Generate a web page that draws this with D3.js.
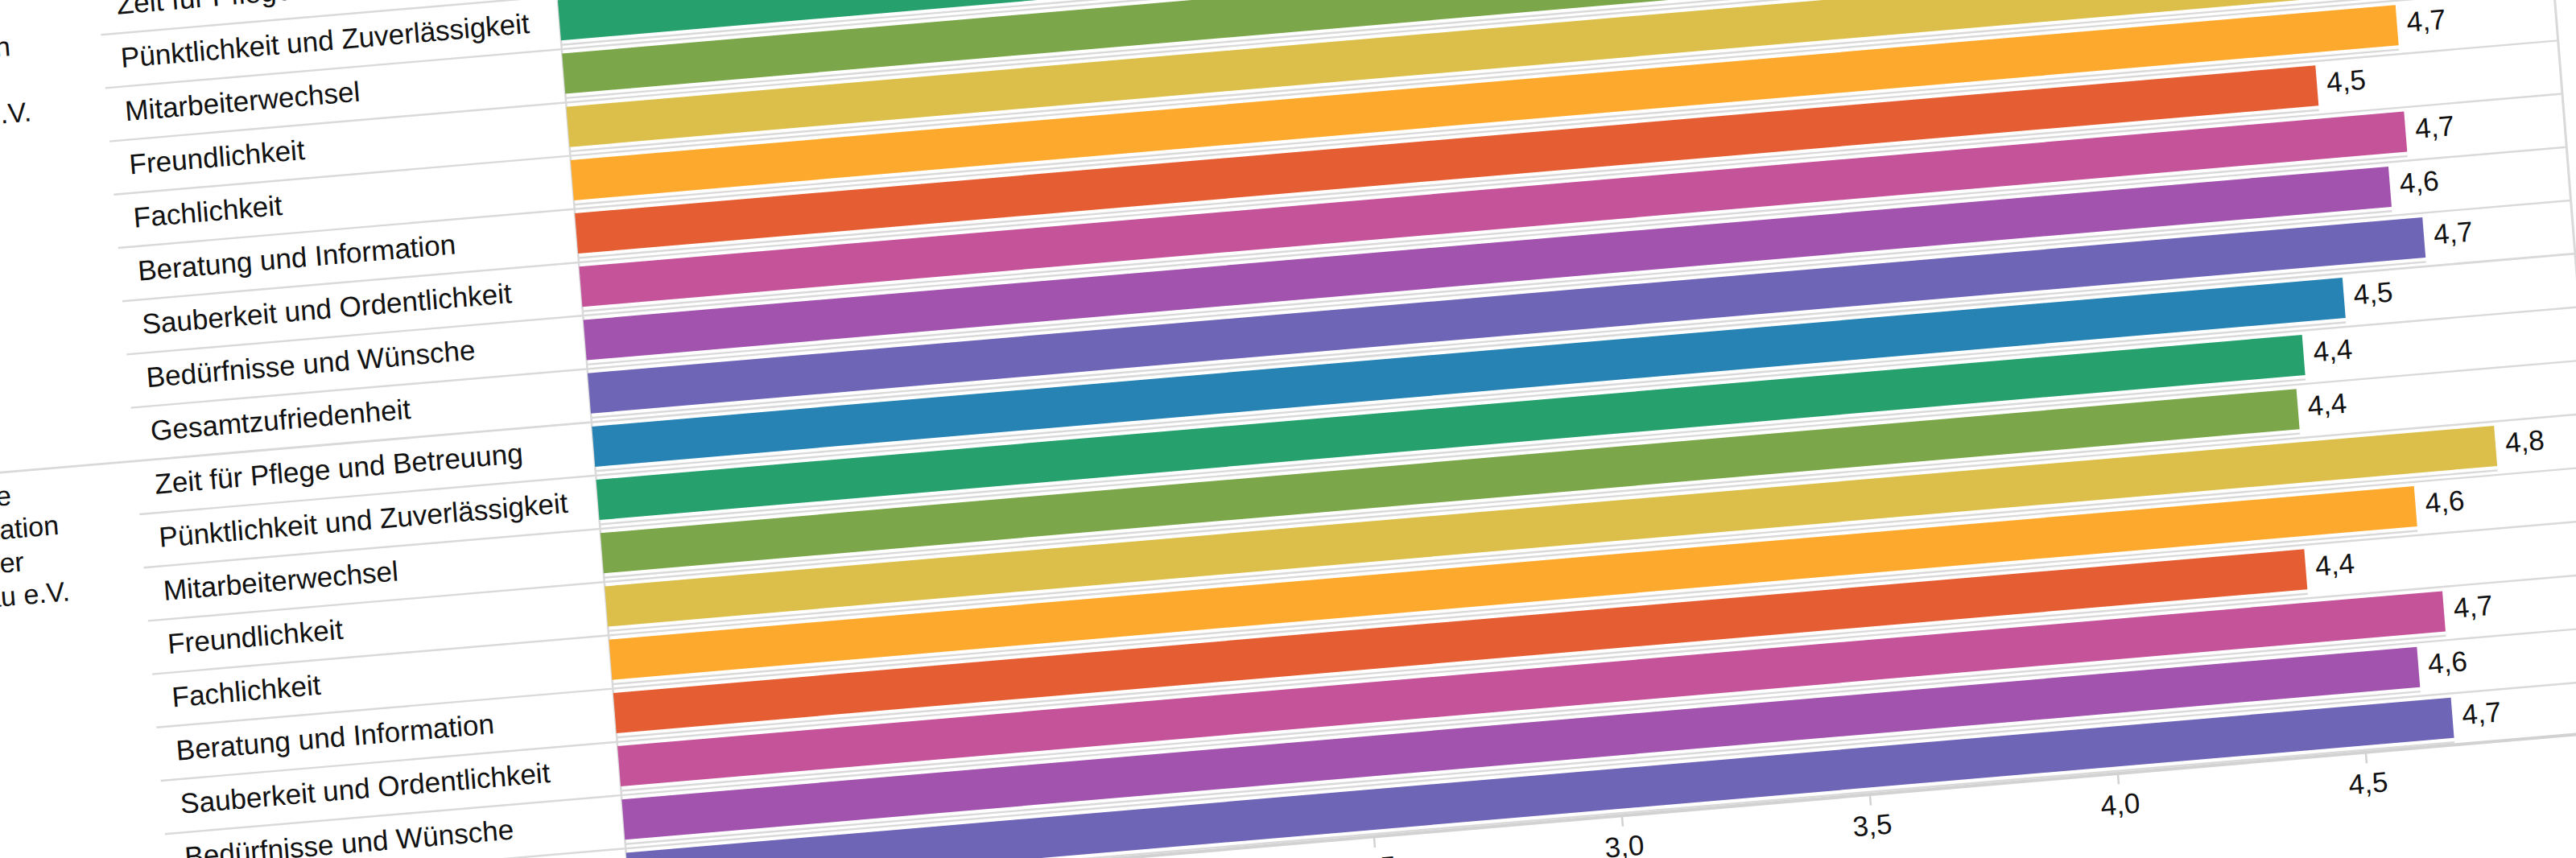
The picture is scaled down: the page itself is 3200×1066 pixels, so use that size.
<!DOCTYPE html>
<html>
<head>
<meta charset="utf-8">
<script src="https://cdn.jsdelivr.net/npm/d3@7"></script>
<style>
  html, body { margin: 0; padding: 0; background: #ffffff; }
  svg { display: block; }
</style>
</head>
<body>
<svg id="chart" width="3200" height="1066"></svg>
<script>
// ---------- data ----------
const groupLabels = [
  ["Ökumenische", "Sozialstation Bergen", "der Evangelischen", "Gemeinde-Pflege e.V."],
  ["Ambulante Pflege", "Vinzenz-Sozialstation", "Krankenpflege der", "Sozialhilfe Hanau e.V."]
];
const categories = [
  "Zeit für Pflege und Betreuung",
  "Pünktlichkeit und Zuverlässigkeit",
  "Mitarbeiterwechsel",
  "Freundlichkeit",
  "Fachlichkeit",
  "Beratung und Information",
  "Sauberkeit und Ordentlichkeit",
  "Bedürfnisse und Wünsche",
  "Gesamtzufriedenheit"
];
const valuesGroup1 = [4.6, 4.5, 4.3, 4.7, 4.68, 4.51, 4.68, 4.64, 4.70];
const valuesGroup2 = [4.53, 4.44, 4.42, 4.81, 4.64, 4.41, 4.68, 4.62, 4.68];
const barColors = ["#2783b4", "#26a06d", "#7ba64a", "#dcbe4a", "#fca92e", "#e55e33", "#c45399", "#a153ae", "#6e65b7"];
const tickValues = [1, 1.5, 2, 2.5, 3, 3.5, 4, 4.5, 5];

// ---------- layout ----------
const FONT = '"Liberation Sans", Arial, Helvetica, sans-serif';
const plotW = 2464, step = 66.2;
const groupValues = [valuesGroup1, valuesGroup2];
const rows = [];
groupValues.forEach((vals, gi) => {
  categories.forEach((c, ci) => rows.push({ key: gi + "|" + ci, group: gi, cat: c, value: vals[ci], color: barColors[ci] }));
});
const plotH = rows.length * step;

const x = d3.scaleLinear().domain([1, 5]).range([0, plotW]);
const y = d3.scaleBand().domain(rows.map(r => r.key)).range([0, plotH])
  .paddingInner(0.245).paddingOuter(0.1225);
const fmt = d => d3.format(".1f")(d).replace(".", ",");

const svg = d3.select("#chart");
// slanted view of the flat chart
const g = svg.append("g").attr("transform", "matrix(1,-0.085,0.08,1,687,-74)")
  .attr("font-family", FONT);

const labelX = -545, lineStartX = -567, groupX = -992;
const gridColor = "#d9d9d9";

// row separators
const boundaries = d3.range(1, rows.length).filter(i => i % categories.length !== 0);
g.append("g").selectAll("line").data(boundaries).join("line")
  .attr("x1", lineStartX).attr("x2", x(5))
  .attr("y1", i => i * step + 2.8).attr("y2", i => i * step + 2.8)
  .attr("stroke", gridColor).attr("stroke-width", 2.4);
// group separators
g.append("g").selectAll("line").data(d3.range(0, rows.length, categories.length)).join("line")
  .attr("x1", -1200).attr("x2", x(5))
  .attr("y1", i => i * step + 2.8).attr("y2", i => i * step + 2.8)
  .attr("stroke", gridColor).attr("stroke-width", 2.8);

// baseline and right border
g.append("line").attr("x1", x(1)).attr("x2", x(1)).attr("y1", 0).attr("y2", plotH)
  .attr("stroke", gridColor).attr("stroke-width", 2.5);
g.append("line").attr("x1", x(5)).attr("x2", x(5)).attr("y1", -200).attr("y2", plotH)
  .attr("stroke", gridColor).attr("stroke-width", 3);

// bar shadow lines (thin line under each bar)
g.append("g").selectAll("line").data(rows).join("line")
  .attr("x1", x(1)).attr("x2", d => x(d.value))
  .attr("y1", d => y(d.key) + y.bandwidth() + 5.4).attr("y2", d => y(d.key) + y.bandwidth() + 5.4)
  .attr("stroke", gridColor).attr("stroke-width", 2.4);

// bars
g.append("g").selectAll("rect").data(rows).join("rect")
  .attr("x", x(1)).attr("y", d => y(d.key))
  .attr("width", d => x(d.value) - x(1)).attr("height", y.bandwidth())
  .attr("fill", d => d.color);

// value labels
g.append("g").selectAll("text").data(rows).join("text")
  .attr("x", d => x(d.value) + 12).attr("y", d => y(d.key) + y.bandwidth() / 2 - 3)
  .attr("dominant-baseline", "central")
  .attr("font-size", 35).attr("fill", "#111")
  .text(d => fmt(d.value));

// category labels
g.append("g").selectAll("text").data(rows).join("text")
  .attr("x", labelX).attr("y", d => y(d.key) + y.bandwidth() / 2)
  .attr("dominant-baseline", "central")
  .attr("font-size", 35).attr("fill", "#111")
  .text(d => d.cat);

// group labels
g.append("g").selectAll("text").data(groupLabels).join("text")
  .attr("font-size", 34).attr("fill", "#111")
  .each(function (lines, gi) {
    const top = gi * categories.length * step;
    d3.select(this).selectAll("tspan").data(lines).join("tspan")
      .attr("x", groupX).attr("y", (l, k) => top + 32 + k * 41.4)
      .attr("dominant-baseline", "central")
      .text(l => l);
  });

// value axis
const axis = d3.axisBottom(x).tickValues(tickValues).tickSize(14).tickSizeOuter(0)
  .tickPadding(12).tickFormat(fmt);
const gAxis = g.append("g").attr("transform", `translate(0,${plotH})`).call(axis);
gAxis.attr("font-family", FONT).attr("font-size", 35);
gAxis.select(".domain").attr("stroke", "#d2d2d2").attr("stroke-width", 4);
gAxis.selectAll(".tick line").attr("stroke", "#d2d2d2").attr("stroke-width", 2.5);
gAxis.selectAll(".tick text").attr("fill", "#111");
</script>
</body>
</html>
